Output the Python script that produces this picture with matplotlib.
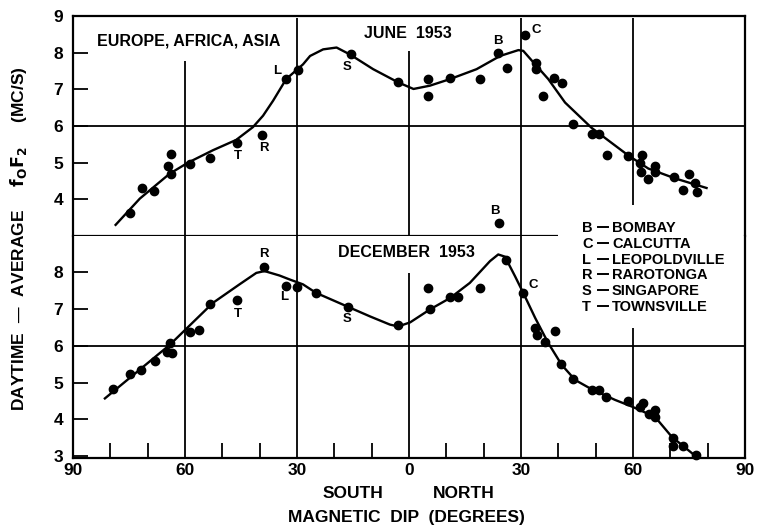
import matplotlib
matplotlib.use("Agg")
import matplotlib.pyplot as plt
from matplotlib.lines import Line2D

plt.rcParams["font.family"] = ["Liberation Sans", "DejaVu Sans"]
plt.rcParams["font.weight"] = "bold"
plt.rcParams["mathtext.default"] = "regular"

# ---- June 1953 observations (magnetic dip in degrees, south negative) ----
june_dip = [-74.8, -71.5, -68.3, -64.6, -63.8, -63.8, -58.7, -53.2, -46.0, -39.3,
            -33.0, -29.7, -15.5, -2.9, 5.2, 5.0, 11.0, 19.0, 23.9, 26.2,
            31.1, 33.9, 33.9, 36.0, 38.9, 40.9, 44.0, 48.9, 51.0, 53.0,
            58.7, 62.5, 61.9, 62.1, 63.9, 65.9, 65.9, 71.0, 75.0, 76.6,
            73.5, 77.1]
june_fof2 = [3.64, 4.32, 4.22, 4.92, 5.23, 4.70, 4.96, 5.13, 5.53, 5.75,
             7.27, 7.52, 7.95, 7.19, 7.28, 6.81, 7.30, 7.27, 7.98, 7.57,
             8.47, 7.73, 7.55, 6.81, 7.30, 7.16, 6.06, 5.77, 5.77, 5.22,
             5.17, 5.20, 4.99, 4.75, 4.56, 4.91, 4.75, 4.61, 4.70, 4.45,
             4.25, 4.21]
june_station = ["", "", "", "", "", "", "", "", "T", "R",
                "L", "", "S", "", "", "", "", "", "B", "",
                "C", "", "", "", "", "", "", "", "", "",
                "", "", "", "", "", "", "", "", "", "",
                "", ""]

# fitted June curve
june_curve_dip = [-78.8, -72.1, -64.1, -59.2, -52.5, -46.3, -41.8, -39.1, -36.4, -32.9,
                  -28.4, -26.5, -23.0, -19.4, -15.8, -9.6, -2.9, 1.2, 5.6, 11.0,
                  18.1, 24.4, 29.3, 30.6, 33.8, 37.3, 41.8, 48.9, 58.7, 64.1,
                  71.3, 80.0]
june_curve = [3.28, 4.02, 4.70, 5.00, 5.34, 5.62, 5.97, 6.28, 6.69, 7.28,
              7.68, 7.91, 8.09, 8.14, 7.95, 7.55, 7.19, 7.01, 7.10, 7.28,
              7.55, 7.91, 8.07, 8.05, 7.68, 7.28, 6.64, 5.95, 5.20, 4.84,
              4.57, 4.30]

# ---- December 1953 observations ----
dec_dip = [-79.3, -74.8, -71.9, -68.1, -64.7, -64.1, -63.4, -58.7, -56.3, -53.2,
           -46.0, -38.9, -33.0, -30.0, -24.9, -16.3, -3.0, 5.2, 5.5, 10.9,
           13.1, 19.0, 25.9, 30.6, 33.8, 34.2, 39.0, 36.3, 40.8, 43.8,
           48.9, 51.0, 52.7, 58.7, 62.8, 61.9, 64.2, 65.9, 65.9, 70.7,
           70.7, 73.5, 76.9, 24.1]
dec_fof2 = [4.82, 5.24, 5.33, 5.59, 5.84, 6.07, 5.81, 6.36, 6.43, 7.14,
            7.23, 8.13, 7.61, 7.59, 7.43, 7.05, 6.55, 7.55, 7.00, 7.32,
            7.31, 7.55, 8.32, 7.43, 6.48, 6.30, 6.41, 6.11, 5.50, 5.09,
            4.80, 4.80, 4.60, 4.50, 4.45, 4.35, 4.16, 4.26, 4.07, 3.50,
            3.27, 3.27, 3.03, 9.33]
dec_station = ["", "", "", "", "", "", "", "", "", "",
               "T", "R", "L", "", "", "S", "", "", "", "",
               "", "", "", "C", "", "", "", "", "", "",
               "", "", "", "", "", "", "", "", "", "",
               "", "", "", "B"]

dec_curve_dip = [-81.7, -64.1, -52.5, -45.4, -40.9, -38.7, -34.7, -31.9, -28.4, -24.9,
                 -16.3, -10.4, -5.1, -2.9, 0.3, 5.6, 11.0, 16.3, 21.7, 23.9,
                 25.7, 28.4, 30.6, 33.8, 37.3, 40.9, 44.5, 48.9, 55.2, 59.7,
                 65.9, 70.4, 77.1]
dec_curve = [4.55, 6.02, 7.16, 7.66, 7.97, 8.02, 7.90, 7.79, 7.66, 7.43,
             7.05, 6.79, 6.57, 6.52, 6.63, 6.98, 7.29, 7.70, 8.29, 8.47,
             8.41, 7.88, 7.43, 6.75, 6.07, 5.48, 5.07, 4.82, 4.53, 4.35,
             4.07, 3.53, 2.98]

station_names = ["B", "C", "L", "R", "S", "T"]
station_full = ["BOMBAY", "CALCUTTA", "LEOPOLDVILLE", "RAROTONGA", "SINGAPORE", "TOWNSVILLE"]

x_major = [-90, -60, -30, 0, 30, 60, 90]
x_minor = [-80, -70, -50, -40, -20, -10, 10, 20, 40, 50, 70, 80]
top_yticks = [4, 5, 6, 7, 8, 9]
bottom_yticks = [3, 4, 5, 6, 7, 8]

# label offsets (pixels) for station letters, per panel
june_offsets = {"T": (1, -13), "R": (2, -13), "L": (-9, 8), "S": (-4, -12),
                "B": (0, 12), "C": (11, 5)}
dec_offsets = {"T": (1, -14), "R": (0, 13), "L": (-2, -11), "S": (-1, -12),
               "C": (10, 8), "B": (-4, 12)}

W, H = 757, 527
fig = plt.figure(figsize=(W / 100, H / 100), dpi=100)
left, right = 73 / W, 745 / W
y_top, y_mid, y_bot = 1 - 16 / H, 1 - 236 / H, 1 - 457.5 / H
ax_top = fig.add_axes([left, y_mid, right - left, y_top - y_mid])
ax_bot = fig.add_axes([left, y_bot, right - left, y_mid - y_bot])

LW = 1.3

for ax in (ax_top, ax_bot):
    ax.set_xlim(-90, 90)
    for s in ax.spines.values():
        s.set_linewidth(1.6)
    ax.tick_params(axis="y", direction="in", length=11, width=1.3, pad=7,
                   labelsize=12.5, right=False)

ax_top.set_ylim(3.0, 8.95)
ax_bot.set_ylim(2.97, 8.97)
ax_top.spines["bottom"].set_visible(False)
ax_bot.spines["top"].set_visible(False)

ax_top.set_xticks([])
ax_top.set_yticks(top_yticks)
ax_top.set_yticklabels([str(v) for v in top_yticks])
ax_bot.set_yticks(bottom_yticks)
ax_bot.set_yticklabels([str(v) for v in bottom_yticks])
ax_bot.set_xticks(x_major)
ax_bot.set_xticklabels([str(abs(v)) for v in x_major])
ax_bot.set_xticks(x_minor, minor=True)
ax_bot.tick_params(axis="x", which="major", length=0, pad=4, labelsize=12.5)
ax_bot.tick_params(axis="x", which="minor", direction="in", length=11, width=1.3)
for lab in ax_bot.get_xticklabels() + ax_bot.get_yticklabels() + ax_top.get_yticklabels():
    lab.set_fontweight("bold")

# grid lines (broken where the panel titles and key sit)
ax_top.hlines(6, -90, 90, color="black", lw=LW)
ax_top.hlines(3.0, -90, 40, color="black", lw=1.6, clip_on=False)
ax_top.vlines(-60, 3.0, 7.78, color="black", lw=LW)
ax_top.vlines(-30, 3.0, 8.95, color="black", lw=LW)
ax_top.vlines(0, 3.0, 8.05, color="black", lw=LW)
ax_top.vlines(30, 3.0, 8.95, color="black", lw=LW)
ax_top.vlines(60, 3.85, 8.95, color="black", lw=LW)

ax_bot.hlines(6, -90, 90, color="black", lw=LW)
ax_bot.vlines(-60, 2.97, 8.97, color="black", lw=LW)
ax_bot.vlines(-30, 2.97, 8.97, color="black", lw=LW)
ax_bot.vlines(0, 2.97, 7.97, color="black", lw=LW)
ax_bot.vlines(30, 2.97, 8.97, color="black", lw=LW)
ax_bot.vlines(60, 2.97, 6.48, color="black", lw=LW)

# fitted curves and observations
ax_top.plot(june_curve_dip, june_curve, color="black", lw=1.7,
            solid_joinstyle="round", solid_capstyle="butt")
ax_top.plot(june_dip, june_fof2, "o", color="black", ms=6, clip_on=False)
ax_bot.plot(dec_curve_dip, dec_curve, color="black", lw=1.7,
            solid_joinstyle="round", solid_capstyle="butt")
ax_bot.plot(dec_dip, dec_fof2, "o", color="black", ms=6, clip_on=False)

for ax, xs, ys, st, offs in ((ax_top, june_dip, june_fof2, june_station, june_offsets),
                             (ax_bot, dec_dip, dec_fof2, dec_station, dec_offsets)):
    for x, y, s in zip(xs, ys, st):
        if s:
            ax.annotate(s, (x, y), xytext=offs[s], textcoords="offset pixels",
                        ha="center", va="center", fontsize=9.5, fontweight="bold",
                        annotation_clip=False)

# panel titles
ax_top.text(-58.9, 8.33, "EUROPE, AFRICA, ASIA", ha="center", va="center",
            fontsize=11.5, fontweight="bold")
ax_top.text(-0.4, 8.53, "JUNE  1953", ha="center", va="center",
            fontsize=11.5, fontweight="bold")
ax_bot.text(-0.7, 8.51, "DECEMBER  1953", ha="center", va="center",
            fontsize=11.5, fontweight="bold")

# station key: letter, rule, name
for i, (k, name) in enumerate(zip(station_names, station_full)):
    py = 226.5 + i * 15.8
    fy = 1 - py / H
    fig.text(582 / W, fy, k, ha="left", va="center_baseline", fontsize=10.5, fontweight="bold")
    fig.add_artist(Line2D([598 / W, 608 / W], [fy - 0.5 / H, fy - 0.5 / H],
                          color="black", lw=1.4, transform=fig.transFigure))
    fig.text(612 / W, fy, name, ha="left", va="center_baseline", fontsize=10.5, fontweight="bold")

# axis titles
fig.text(353 / W, 1 - 493 / H, "SOUTH", ha="center", va="center", fontsize=12.5, fontweight="bold")
fig.text(464 / W, 1 - 493 / H, "NORTH", ha="center", va="center", fontsize=12.5, fontweight="bold")
fig.text(406 / W, 1 - 517.5 / H, "MAGNETIC  DIP  (DEGREES)", ha="center", va="center",
         fontsize=12.5, fontweight="bold")
fig.text(19 / W, 1 - 239 / H,
         "DAYTIME  \u2014  AVERAGE     $\\mathbf{f_OF_2}$     (MC/S)",
         rotation=90, ha="center", va="center", fontsize=12.5, fontweight="bold")

fig.savefig("out.png", dpi=100)
